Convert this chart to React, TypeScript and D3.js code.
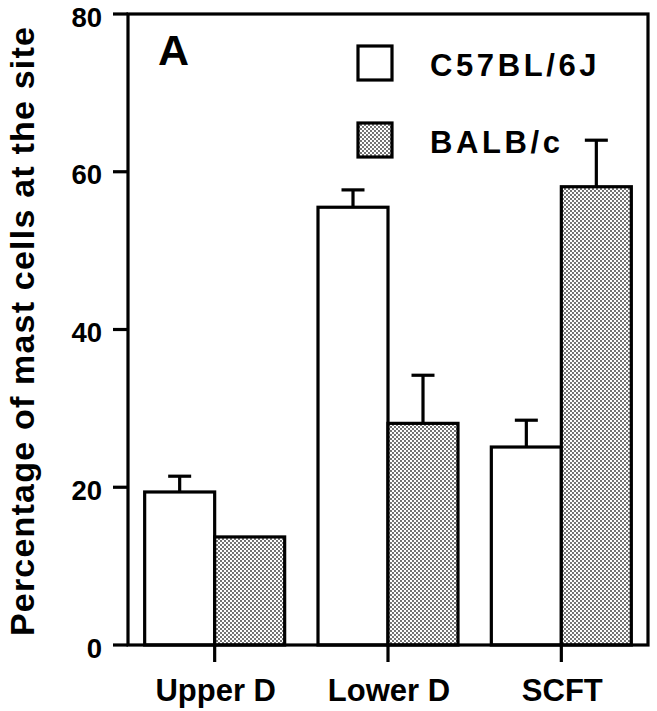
import React from "react";
import * as d3 from "d3";

const categories = ["Upper D", "Lower D", "SCFT"];
const seriesNames = ["C57BL/6J", "BALB/c"];
const c57Values = [19.4, 55.5, 25.1];
const c57Errors = [2.0, 2.2, 3.4];
const balbValues = [13.7, 28.1, 58.1];
const balbErrors = [0, 6.1, 5.9];
const yTicks = [0, 20, 40, 60, 80];
const yLabel = "Percentage of mast cells at the site";
const panelLabel = "A";

const W = 657;
const H = 711;
const left = 128;
const right = 648;
const top = 14;
const bottom = 645;
const FONT = "'Liberation Sans', Arial, Helvetica, sans-serif";

export default function App() {
  const y = d3.scaleLinear().domain([0, 80]).range([bottom, top]);
  const x = d3.scaleBand<string>().domain(categories).range([left, right]).padding(0);
  const half = 70;
  const xs = d3.scaleBand<string>().domain(seriesNames).range([-half, half]).padding(0);

  const data = categories.map((c, i) => [
    { s: seriesNames[0], v: c57Values[i], e: c57Errors[i] },
    { s: seriesNames[1], v: balbValues[i], e: balbErrors[i] },
  ]);

  const sw = 3.2;
  const capW = 23;

  return (
    <svg
      width={W}
      height={H}
      style={{ position: "absolute", left: 0, top: 0, background: "#fff" }}
    >
      <defs>
        <pattern id="stip" width="4" height="4" patternUnits="userSpaceOnUse">
          <rect width="4" height="4" fill="#ffffff" />
          <circle cx="1" cy="1" r="0.9" fill="#333" />
          <circle cx="3" cy="3" r="0.9" fill="#333" />
        </pattern>
      </defs>

      {/* bars */}
      {categories.map((c, i) => {
        const cx = (x(c) as number) + x.bandwidth() / 2;
        return (
          <g key={c}>
            {data[i].map((d) => {
              const bx = cx + (xs(d.s) as number);
              const bw = xs.bandwidth();
              const filled = d.s === seriesNames[1];
              return (
                <g key={d.s}>
                  {d.e > 0 && (
                    <g stroke="#000" strokeWidth={sw}>
                      <line x1={bx + bw / 2} x2={bx + bw / 2} y1={y(d.v)} y2={y(d.v + d.e)} />
                      <line
                        x1={bx + bw / 2 - capW / 2}
                        x2={bx + bw / 2 + capW / 2}
                        y1={y(d.v + d.e)}
                        y2={y(d.v + d.e)}
                      />
                    </g>
                  )}
                  <rect
                    x={bx}
                    y={y(d.v)}
                    width={bw}
                    height={bottom - y(d.v)}
                    fill={filled ? "url(#stip)" : "#fff"}
                    stroke="#000"
                    strokeWidth={sw}
                  />
                </g>
              );
            })}
          </g>
        );
      })}

      {/* frame */}
      <rect
        x={left}
        y={top}
        width={right - left}
        height={bottom - top}
        fill="none"
        stroke="#000"
        strokeWidth={sw}
      />

      {/* y ticks */}
      {yTicks.map((t) => (
        <g key={t}>
          <line x1={left - 15} x2={left} y1={y(t)} y2={y(t)} stroke="#000" strokeWidth={sw} />
          <text
            x={102}
            y={y(t) + 12.5}
            textAnchor="end"
            fontFamily={FONT}
            fontWeight="bold"
            fontSize={27.5}
          >
            {t}
          </text>
        </g>
      ))}

      {/* x ticks and labels */}
      {categories.map((c) => {
        const cx = (x(c) as number) + x.bandwidth() / 2;
        return (
          <g key={c}>
            <line x1={cx} x2={cx} y1={bottom} y2={bottom + 17} stroke="#000" strokeWidth={sw} />
            <text
              x={cx + 1}
              y={701}
              textAnchor="middle"
              fontFamily={FONT}
              fontWeight="bold"
              fontSize={31}
            >
              {c}
            </text>
          </g>
        );
      })}

      {/* y label */}
      <text
        transform={`translate(34, 331) rotate(-90)`}
        textAnchor="middle"
        fontFamily={FONT}
        fontWeight="bold"
        fontSize={34}
        letterSpacing={1.2}
      >
        {yLabel}
      </text>

      {/* panel label */}
      <text x={158} y={65} fontFamily={FONT} fontWeight="bold" fontSize={43}>
        {panelLabel}
      </text>

      {/* legend */}
      {seriesNames.map((s, i) => (
        <g key={s}>
          <rect
            x={358}
            y={46 + i * 77}
            width={34}
            height={34}
            fill={i === 1 ? "url(#stip)" : "#fff"}
            stroke="#000"
            strokeWidth={sw}
          />
          <text
            x={430}
            y={76 + i * 77}
            fontFamily={FONT}
            fontWeight="bold"
            fontSize={31}
            letterSpacing={3.6}
          >
            {s}
          </text>
        </g>
      ))}
    </svg>
  );
}
